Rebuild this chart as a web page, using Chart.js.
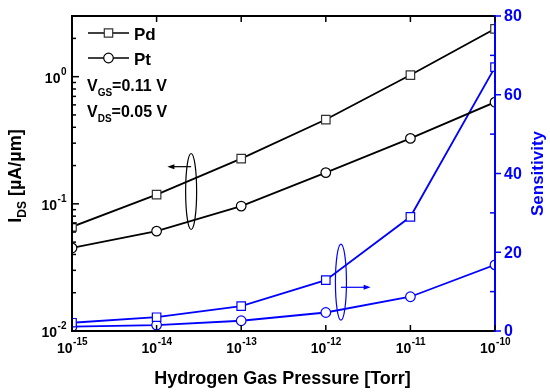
<!DOCTYPE html>
<html>
<head>
<meta charset="utf-8">
<script src="https://cdn.jsdelivr.net/npm/chart.js@4.4.1/dist/chart.umd.min.js"></script>
<style>
  html, body { margin: 0; background: #fff; }
  #wrap { width: 550px; height: 392px; }
</style>
</head>
<body>
<div id="wrap"><canvas id="chart"></canvas></div>
<script>
// pressure in Torr
const pressure = [1e-15, 1e-14, 1e-13, 1e-12, 1e-11, 1e-10];
// drain current, uA/um
const idsPd = [0.066, 0.118, 0.227, 0.46, 1.03, 2.38];
const idsPt = [0.045, 0.061, 0.096, 0.176, 0.327, 0.63];
// sensitivity
const sensPd = [2.1, 3.5, 6.3, 12.9, 29.0, 67.0];
const sensPt = [1.1, 1.5, 2.6, 4.7, 8.7, 16.8];

const xTickExp = ["-15", "-14", "-13", "-12", "-11", "-10"];
const leftTicks = [0.01, 0.1, 1];
const leftTickExp = ["-2", "-1", "0"];
const rightTicks = [0, 20, 40, 60, 80];

const BLUE = "#0000ff";
const font = (px) => `bold ${px}px "Liberation Sans", Arial, sans-serif`;

const pts = (ys) => ys.map((y, i) => ({ x: pressure[i], y }));

// draws "10" with a superscript exponent, y = baseline of "10"
function pow10(ctx, exp, x, y, align, color) {
  ctx.font = font(14);
  const wb = ctx.measureText("10").width;
  ctx.font = font(10);
  const we = ctx.measureText(exp).width;
  let left = x;
  if (align === "center") left = x - (wb + we) / 2;
  if (align === "right") left = x - wb - we;
  ctx.fillStyle = color;
  ctx.textAlign = "left";
  ctx.textBaseline = "alphabetic";
  ctx.font = font(14);
  ctx.fillText("10", left, y);
  ctx.font = font(10);
  ctx.fillText(exp, left + wb + 0.5, y - 8);
}

// text made of [string, isSubscript] pieces, starting at x
function subText(ctx, parts, x, y, size, subSize) {
  ctx.textAlign = "left";
  ctx.textBaseline = "alphabetic";
  let cx = x;
  parts.forEach(([s, sub]) => {
    ctx.font = font(sub ? subSize : size);
    ctx.fillText(s, cx, sub ? y + 5 : y);
    cx += ctx.measureText(s).width;
  });
  return cx - x;
}

function partsWidth(ctx, parts, size, subSize) {
  let w = 0;
  parts.forEach(([s, sub]) => {
    ctx.font = font(sub ? subSize : size);
    w += ctx.measureText(s).width;
  });
  return w;
}

function marker(ctx, kind, x, y, color) {
  ctx.save();
  ctx.strokeStyle = color;
  ctx.fillStyle = "#fff";
  ctx.lineWidth = 1.2;
  ctx.beginPath();
  if (kind === "rect") ctx.rect(x - 4.2, y - 4.2, 8.4, 8.4);
  else ctx.arc(x, y, 4.8, 0, Math.PI * 2);
  ctx.fill();
  ctx.stroke();
  ctx.restore();
}

function arrow(ctx, x1, y, x2, color) {
  const dir = Math.sign(x2 - x1);
  ctx.save();
  ctx.strokeStyle = color;
  ctx.fillStyle = color;
  ctx.lineWidth = 1.2;
  ctx.beginPath();
  ctx.moveTo(x1, y);
  ctx.lineTo(x2 - dir * 5, y);
  ctx.stroke();
  ctx.beginPath();
  ctx.moveTo(x2, y);
  ctx.lineTo(x2 - dir * 7, y - 2.5);
  ctx.lineTo(x2 - dir * 7, y + 2.5);
  ctx.closePath();
  ctx.fill();
  ctx.restore();
}

const decor = {
  id: "decor",
  afterDraw(chart) {
    const { ctx, chartArea: a, scales } = chart;
    const x = scales.x, yl = scales.y, yr = scales.y2;
    ctx.save();

    // frame
    ctx.lineWidth = 2;
    ctx.strokeStyle = "#000";
    ctx.beginPath();
    ctx.moveTo(a.right, a.top); ctx.lineTo(a.left, a.top);
    ctx.lineTo(a.left, a.bottom); ctx.lineTo(a.right, a.bottom);
    ctx.stroke();
    ctx.strokeStyle = BLUE;
    ctx.beginPath();
    ctx.moveTo(a.right, a.top - 1); ctx.lineTo(a.right, a.bottom + 1);
    ctx.stroke();

    // x ticks (inside, bottom and top) and labels
    ctx.lineWidth = 1.5;
    ctx.strokeStyle = "#000";
    pressure.forEach((p, i) => {
      const px = x.getPixelForValue(p);
      ctx.beginPath();
      ctx.moveTo(px, a.bottom); ctx.lineTo(px, a.bottom - 6);
      ctx.moveTo(px, a.top); ctx.lineTo(px, a.top + 6);
      ctx.stroke();
      pow10(ctx, xTickExp[i], px, a.bottom + 22, "center", "#000");
    });

    // left log ticks
    for (let d = 0.01; d < 10; d *= 10) {
      for (let m = 1; m < 10; m++) {
        const v = d * m;
        if (v < yl.min - 1e-12 || v > yl.max + 1e-9) continue;
        const py = yl.getPixelForValue(v);
        ctx.beginPath();
        ctx.moveTo(a.left, py); ctx.lineTo(a.left + (m === 1 ? 7 : 4), py);
        ctx.stroke();
      }
    }
    leftTicks.forEach((v, i) => {
      const py = yl.getPixelForValue(v);
      pow10(ctx, leftTickExp[i], a.left - 6, py + 6, "right", "#000");
    });

    // right ticks
    ctx.strokeStyle = BLUE;
    ctx.fillStyle = BLUE;
    for (let v = 0; v <= 80; v += 10) {
      const py = yr.getPixelForValue(v);
      ctx.beginPath();
      if (v % 20 === 0) { ctx.moveTo(a.right, py); ctx.lineTo(a.right + 6, py); }
      else { ctx.moveTo(a.right, py); ctx.lineTo(a.right - 5, py); }
      ctx.stroke();
    }
    ctx.font = font(16);
    ctx.textAlign = "left";
    ctx.textBaseline = "middle";
    rightTicks.forEach((v) => {
      ctx.fillText(String(v), a.right + 9, yr.getPixelForValue(v) + 1);
    });

    // axis titles
    ctx.fillStyle = "#000";
    ctx.font = font(18);
    ctx.textAlign = "center";
    ctx.textBaseline = "alphabetic";
    ctx.fillText("Hydrogen Gas Pressure [Torr]", (a.left + a.right) / 2 - 1, 384);

    const lt = [["I", false], ["DS", true], [" [\u00b5A/\u00b5m]", false]];
    ctx.save();
    ctx.translate(21, 176);
    ctx.rotate(-Math.PI / 2);
    const lw = partsWidth(ctx, lt, 18, 12);
    subText(ctx, lt, -lw / 2, 0, 18, 12);
    ctx.restore();

    ctx.save();
    ctx.fillStyle = BLUE;
    ctx.font = font(17);
    ctx.translate(543, (a.top + a.bottom) / 2);
    ctx.rotate(-Math.PI / 2);
    ctx.textAlign = "center";
    ctx.fillText("Sensitivity", 0, 0);
    ctx.restore();

    // legend
    const legend = [["Pd", "rect", 33], ["Pt", "circle", 58]];
    legend.forEach(([name, kind, ly]) => {
      ctx.strokeStyle = "#000";
      ctx.lineWidth = 1.6;
      ctx.beginPath();
      ctx.moveTo(88, ly); ctx.lineTo(129, ly);
      ctx.stroke();
      marker(ctx, kind, 108.5, ly, kind === "rect" ? "#333" : "#000");
      ctx.fillStyle = "#000";
      ctx.font = font(17);
      ctx.textAlign = "left";
      ctx.textBaseline = "alphabetic";
      ctx.fillText(name, 134, ly + 7);
    });

    ctx.fillStyle = "#000";
    subText(ctx, [["V", false], ["GS", true], ["=0.11 V", false]], 87, 91, 16, 10);
    subText(ctx, [["V", false], ["DS", true], ["=0.05 V", false]], 87, 117, 16, 10);

    // ellipse and arrow markers pointing to the axes
    ctx.lineWidth = 1.2;
    ctx.strokeStyle = "#000";
    const ex1 = x.getPixelForValue(2.56e-14), ey1 = yl.getPixelForValue(0.125);
    ctx.beginPath();
    ctx.ellipse(ex1, ey1, 5.5, 38, 0, 0, Math.PI * 2);
    ctx.stroke();
    arrow(ctx, ex1, yl.getPixelForValue(0.196), x.getPixelForValue(1.34e-14), "#000");

    ctx.strokeStyle = BLUE;
    const ex2 = x.getPixelForValue(1.51e-12), ey2 = yr.getPixelForValue(12.4);
    ctx.beginPath();
    ctx.ellipse(ex2, ey2, 5.5, 38, 0, 0, Math.PI * 2);
    ctx.stroke();
    arrow(ctx, ex2, yr.getPixelForValue(11.1), x.getPixelForValue(3.39e-12), BLUE);

    ctx.restore();
  }
};

const lineSet = (data, axis, color, style, edge) => ({
  data: pts(data),
  yAxisID: axis,
  borderColor: color,
  borderWidth: 1.8,
  pointStyle: style,
  pointRadius: style === "rect" ? 6 : 4.8,
  pointBorderWidth: 1.2,
  pointBorderColor: edge,
  pointBackgroundColor: "#fff",
  tension: 0
});

new Chart(document.getElementById("chart"), {
  type: "line",
  data: {
    datasets: [
      lineSet(idsPd, "y", "#000", "rect", "#333"),
      lineSet(idsPt, "y", "#000", "circle", "#000"),
      lineSet(sensPd, "y2", BLUE, "rect", BLUE),
      lineSet(sensPt, "y2", BLUE, "circle", BLUE)
    ]
  },
  options: {
    responsive: true,
    maintainAspectRatio: false,
    animation: false,
    layout: { padding: { top: 16 } },
    plugins: { legend: { display: false }, tooltip: { enabled: false } },
    scales: {
      x: {
        type: "logarithmic",
        min: 1e-15,
        max: 1e-10,
        ticks: { display: false },
        grid: { display: false },
        border: { display: false },
        afterFit: (s) => { s.height = 61; }
      },
      y: {
        type: "logarithmic",
        position: "left",
        min: 0.01,
        max: 3,
        ticks: { display: false },
        grid: { display: false },
        border: { display: false },
        afterFit: (s) => { s.width = 72; }
      },
      y2: {
        type: "linear",
        position: "right",
        min: 0,
        max: 80,
        ticks: { display: false },
        grid: { display: false },
        border: { display: false },
        afterFit: (s) => { s.width = 55; }
      }
    }
  },
  plugins: [decor]
});
</script>
</body>
</html>
